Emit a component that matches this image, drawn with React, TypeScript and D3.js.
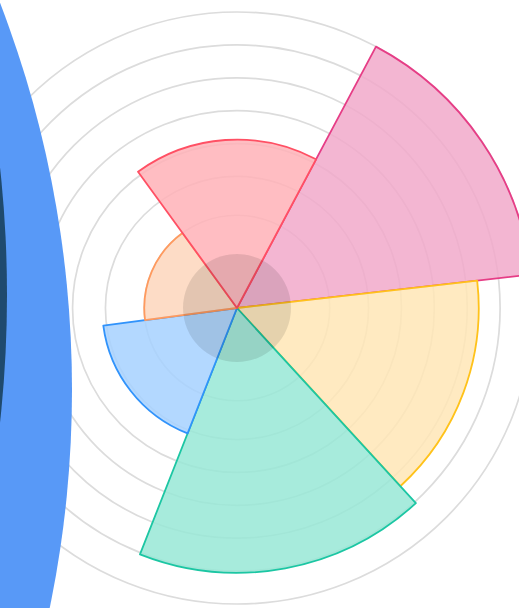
import React, { useEffect, useRef } from "react";
import * as d3 from "d3";

const WIDTH = 519;
const HEIGHT = 608;

// segments, clockwise starting at the pink one
const categories = ["Pink", "Yellow", "Teal", "Blue", "Orange", "Red"];
const values = [90, 73.5, 80.5, 41, 28.2, 51.2];
const angleSpans = [55.5, 54, 64, 61, 61.5, 64];
const strokeColors = ["#e63d86", "#ffc21a", "#1cc6a3", "#3193fb", "#ff9a5e", "#ff5064"];
const fillColors = ["#f1a9ca", "#ffe6b6", "#98e8d6", "#a6d1ff", "#fdd6bc", "#ffb2b7"];

const gridTicks = [28.2, 40, 50, 60, 70, 80, 90];
const scaleMax = 90;

export default function App() {
  const ref = useRef<SVGSVGElement>(null);

  useEffect(() => {
    const svg = d3.select(ref.current);
    svg.selectAll("*").remove();

    const cx = 237;
    const cy = 308;
    const r = d3.scaleLinear().domain([0, scaleMax]).range([0, 296]);

    const g = svg.append("g").attr("transform", `translate(${cx},${cy})`);

    // grid rings
    g.selectAll("circle.grid")
      .data(gridTicks)
      .join("circle")
      .attr("class", "grid")
      .attr("r", d => r(d))
      .attr("fill", "none")
      .attr("stroke", "#dcdcdc")
      .attr("stroke-width", 1.7);

    const pie = d3
      .pie<number>()
      .sort(null)
      .value(d => d)
      .startAngle((28 * Math.PI) / 180)
      .endAngle((388 * Math.PI) / 180);
    const slices = pie(angleSpans);

    const arc = d3.arc<any>().innerRadius(0);

    g.selectAll("path.seg")
      .data(slices)
      .join("path")
      .attr("class", "seg")
      .attr("d", (d, i) =>
        arc({
          startAngle: d.startAngle,
          endAngle: d.endAngle,
          outerRadius: r(values[i])
        })
      )
      .attr("fill", (d, i) => fillColors[i])
      .attr("fill-opacity", 0.85)
      .attr("stroke", (d, i) => strokeColors[i])
      .attr("stroke-width", 1.8)
      .attr("stroke-linejoin", "round")
      .append("title")
      .text((d, i) => `${categories[i]}: ${values[i]}`);

    // darker hub in the middle
    g.append("circle")
      .attr("r", 54)
      .attr("fill", "rgba(0,0,0,0.1)");

    // large ring cut by the left edge
    svg.append("circle")
      .attr("cx", -1005)
      .attr("cy", 390)
      .attr("r", 1077)
      .attr("fill", "#5899f7");
    svg.append("circle")
      .attr("cx", -1163)
      .attr("cy", 295)
      .attr("r", 1170)
      .attr("fill", "#1f4a6e");
  }, []);

  return (
    <div style={{ position: "fixed", left: 0, top: 0, width: WIDTH, height: HEIGHT, background: "#fff" }}>
      <svg ref={ref} width={WIDTH} height={HEIGHT} style={{ display: "block" }} />
    </div>
  );
}
